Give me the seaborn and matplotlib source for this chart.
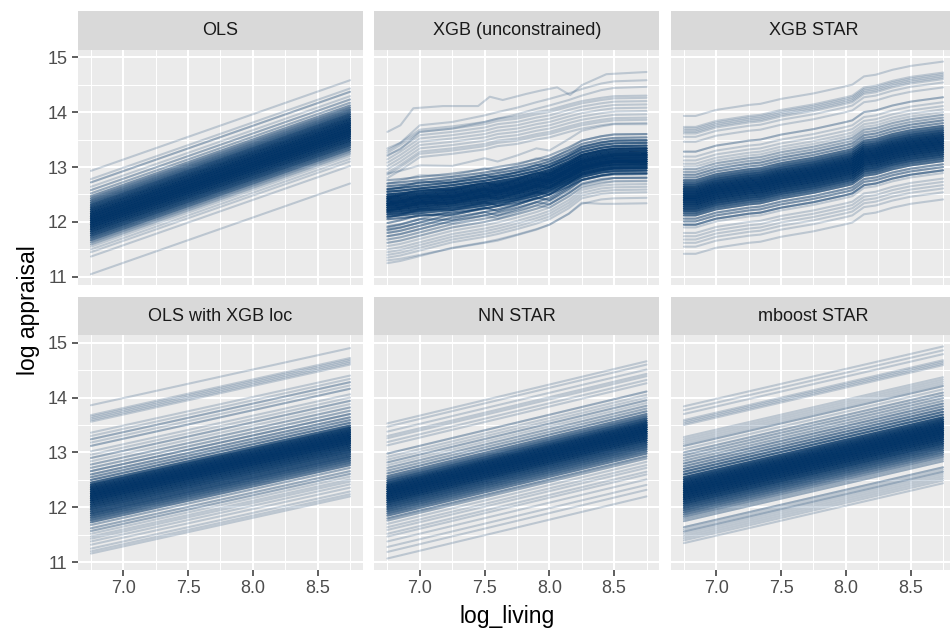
import matplotlib
matplotlib.use("Agg")
import matplotlib.pyplot as plt
from matplotlib.patches import Rectangle
import seaborn as sns
import pandas as pd

# facet order (ggplot facet_wrap, 3 columns)
panels = ["OLS", "XGB (unconstrained)", "XGB STAR",
          "OLS with XGB loc", "NN STAR", "mboost STAR"]

x_lo, x_hi = 6.75, 8.75
line_color = "#003366"

# straight ICE panels: value at x_lo, number of curves there, rise to x_hi
ols_start = [12.93, 12.78, 12.72, 12.64, 12.58, 12.52, 12.47, 12.43, 12.39, 12.35,
             12.31, 12.27, 12.23, 12.19, 12.15, 12.11, 12.07, 12.03, 11.99, 11.95,
             11.91, 11.87, 11.83, 11.79, 11.75, 11.71, 11.67, 11.63, 11.59, 11.55,
             11.50, 11.45, 11.37, 11.05]
ols_n = [1, 1, 2, 1, 2, 2, 3, 4, 5, 6,
         8, 9, 11, 12, 14, 15, 15, 16, 16, 15,
         14, 12, 11, 9, 8, 6, 5, 3, 2, 1,
         1, 1, 1, 1]
ols_rise = 1.65

xloc_start = [13.86, 13.68, 13.65, 13.62, 13.59, 13.56, 13.36, 13.30, 13.24, 13.18,
              13.12, 13.02, 12.96, 12.90, 12.84, 12.78, 12.72, 12.66, 12.60, 12.55,
              12.50, 12.45, 12.41, 12.37, 12.33, 12.29, 12.25, 12.21, 12.17, 12.13,
              12.09, 12.05, 12.01, 11.97, 11.93, 11.89, 11.85, 11.81, 11.77, 11.73,
              11.68, 11.62, 11.57, 11.52, 11.47, 11.43, 11.38, 11.32, 11.25, 11.20,
              11.16]
xloc_n = [1, 1, 1, 1, 1, 1, 1, 1, 2, 1,
          2, 1, 1, 2, 1, 2, 2, 3, 3, 3,
          4, 6, 10, 12, 14, 15, 16, 16, 15, 14,
          12, 11, 10, 9, 8, 8, 7, 6, 5, 4,
          2, 2, 2, 1, 1, 1, 1, 1, 1, 1,
          1]
xloc_rise = 1.04

nn_start = [13.53, 13.47, 13.38, 13.30, 13.26, 13.19, 13.13, 12.98, 12.92, 12.87,
            12.82, 12.77, 12.72, 12.67, 12.62, 12.57, 12.53, 12.49, 12.45, 12.41,
            12.37, 12.33, 12.29, 12.25, 12.21, 12.17, 12.13, 12.09, 12.05, 12.01,
            11.97, 11.93, 11.89, 11.85, 11.80, 11.76, 11.70, 11.64, 11.59, 11.52,
            11.47, 11.38, 11.28, 11.19, 11.07]
nn_n = [1, 1, 1, 1, 1, 1, 1, 2, 1, 1,
        2, 1, 2, 2, 3, 4, 5, 7, 9, 12,
        14, 15, 16, 16, 15, 14, 13, 11, 9, 8,
        7, 6, 5, 4, 3, 2, 1, 1, 1, 1,
        1, 1, 1, 1, 1]
nn_rise = 1.13

mb_start = [13.84, 13.77, 13.70, 13.59, 13.56, 13.53, 13.50, 13.28, 13.24, 13.20,
            13.16, 13.12, 13.06, 13.00, 12.95, 12.90, 12.85, 12.80, 12.75, 12.70,
            12.65, 12.60, 12.55, 12.51, 12.47, 12.43, 12.39, 12.35, 12.31, 12.27,
            12.23, 12.19, 12.15, 12.11, 12.07, 12.03, 11.99, 11.95, 11.91, 11.87,
            11.83, 11.79, 11.75, 11.64, 11.60, 11.56, 11.52, 11.48, 11.44, 11.40,
            11.35]
mb_n = [1, 1, 1, 1, 1, 1, 1, 1, 1, 1,
        1, 2, 1, 2, 2, 2, 2, 3, 3, 4,
        5, 6, 8, 10, 12, 14, 15, 16, 16, 16,
        15, 14, 13, 11, 10, 8, 7, 6, 5, 4,
        3, 2, 2, 2, 1, 2, 1, 1, 1, 1,
        1]
mb_rise = 1.09

# XGB STAR: one shared stepwise shape
xs_x = [6.75, 6.84, 7.0, 7.25, 7.34, 7.5, 7.75, 8.0, 8.05, 8.14, 8.23, 8.36, 8.5, 8.75]
xs_rise = [0.0, 0.0, 0.11, 0.20, 0.22, 0.31, 0.41, 0.54, 0.57, 0.72, 0.75, 0.84, 0.91, 0.99]
xs_start = [13.93, 13.73, 13.70, 13.67, 13.64, 13.61, 13.55, 13.46, 13.28, 13.19,
            13.12, 13.06, 13.01, 12.96, 12.91, 12.86, 12.81, 12.76, 12.72, 12.68,
            12.64, 12.60, 12.56, 12.52, 12.48, 12.44, 12.40, 12.36, 12.32, 12.28,
            12.24, 12.20, 12.16, 12.12, 12.06, 12.01, 11.95, 11.90, 11.80, 11.74,
            11.68, 11.62, 11.55, 11.42]
xs_n = [1, 1, 1, 1, 1, 1, 1, 1, 2, 1,
        1, 1, 1, 2, 2, 3, 3, 5, 6, 8,
        10, 12, 14, 15, 16, 16, 15, 14, 13, 11,
        10, 8, 6, 5, 3, 3, 4, 1, 1, 1,
        1, 1, 1, 1]

# XGB unconstrained: a handful of curve shapes
xgb_x = [6.75, 6.85, 7.0, 7.25, 7.5, 7.6, 7.75, 7.9, 8.0, 8.15, 8.25, 8.4, 8.5, 8.75]
xgb_hi_rise = [0.0, 0.10, 0.42, 0.48, 0.60, 0.66, 0.74, 0.84, 0.90, 1.00, 1.08, 1.18, 1.22, 1.24]
xgb_up_rise = [0.0, 0.14, 0.38, 0.44, 0.52, 0.58, 0.62, 0.70, 0.74, 0.84, 0.90, 0.96, 0.99, 1.00]
xgb_mid_rise = [0.0, 0.02, 0.06, 0.12, 0.20, 0.24, 0.30, 0.38, 0.45, 0.60, 0.72, 0.80, 0.83, 0.84]
xgb_wig_rise = [0.0, 0.05, 0.15, 0.14, 0.28, 0.22, 0.33, 0.46, 0.42, 0.63, 0.78, 0.86, 0.90, 0.90]
xgb_low_rise = [0.0, 0.04, 0.13, 0.28, 0.38, 0.43, 0.52, 0.62, 0.70, 0.90, 1.08, 1.16, 1.18, 1.19]

xgb_hi_start = [13.34, 13.22]
xgb_hi_n = [1, 1]
xgb_up_start = [13.30, 13.26, 13.20, 13.14, 13.08, 13.02, 12.96, 12.90, 12.86, 12.80]
xgb_up_n = [1, 1, 1, 1, 1, 1, 1, 1, 1, 1]
xgb_mid_start = [12.76, 12.70, 12.65, 12.60, 12.55, 12.50, 12.46, 12.42, 12.38, 12.34,
                 12.30, 12.26, 12.22, 12.18, 12.14, 12.10, 12.05]
xgb_mid_n = [2, 3, 4, 6, 8, 10, 12, 14, 15, 16,
             16, 15, 13, 11, 9, 6, 4]
xgb_wig_start = [12.88, 12.70, 12.58, 12.44, 12.32, 12.20, 12.08, 11.98, 11.90, 11.84]
xgb_wig_n = [1, 1, 2, 3, 3, 3, 3, 3, 2, 1]
xgb_low_start = [11.92, 11.86, 11.80, 11.74, 11.68, 11.62, 11.56, 11.50, 11.45, 11.40,
                 11.35, 11.25]
xgb_low_n = [2, 3, 3, 3, 2, 2, 1, 1, 1, 1,
             1, 1]

xgb_top_x = [6.75, 6.85, 6.95, 7.18, 7.45, 7.54, 7.64, 7.82, 7.93, 8.06, 8.16, 8.25, 8.44, 8.75]
xgb_top_y = [13.64, 13.76, 14.07, 14.11, 14.11, 14.28, 14.22, 14.33, 14.39, 14.45, 14.31, 14.49, 14.69, 14.73]
xgb_bot_y = [11.30, 11.33, 11.40, 11.52, 11.62, 11.66, 11.76, 11.86, 11.95, 12.15, 12.35, 12.33, 12.33, 12.34]


rows = []
uid = 0


def add_curve(model, xs, ys):
    global uid
    for x, y in zip(xs, ys):
        rows.append((model, uid, x, y))
    uid += 1


def add_group(model, xs, rise, starts, counts):
    assert len(starts) == len(counts)
    for s, n in zip(starts, counts):
        for _ in range(n):
            add_curve(model, xs, [s + r for r in rise])


add_group("OLS", [x_lo, x_hi], [0, ols_rise], ols_start, ols_n)
add_group("OLS with XGB loc", [x_lo, x_hi], [0, xloc_rise], xloc_start, xloc_n)
add_group("NN STAR", [x_lo, x_hi], [0, nn_rise], nn_start, nn_n)
add_group("mboost STAR", [x_lo, x_hi], [0, mb_rise], mb_start, mb_n)
add_group("XGB STAR", xs_x, xs_rise, xs_start, xs_n)
add_group("XGB (unconstrained)", xgb_x, xgb_hi_rise, xgb_hi_start, xgb_hi_n)
add_group("XGB (unconstrained)", xgb_x, xgb_up_rise, xgb_up_start, xgb_up_n)
add_group("XGB (unconstrained)", xgb_x, xgb_mid_rise, xgb_mid_start, xgb_mid_n)
add_group("XGB (unconstrained)", xgb_x, xgb_wig_rise, xgb_wig_start, xgb_wig_n)
add_group("XGB (unconstrained)", xgb_x, xgb_low_rise, xgb_low_start, xgb_low_n)
add_curve("XGB (unconstrained)", xgb_top_x, xgb_top_y)
add_curve("XGB (unconstrained)", xgb_x, xgb_bot_y)

df = pd.DataFrame(rows, columns=["model", "uid", "log_living", "log_appraisal"])

sns.set_theme(style="darkgrid", rc={
    "axes.facecolor": "#EBEBEB",
    "grid.color": "white",
    "xtick.bottom": True,
    "ytick.left": True,
    "xtick.color": "#333333",
    "ytick.color": "#333333",
    "xtick.labelcolor": "#4D4D4D",
    "ytick.labelcolor": "#4D4D4D",
    "xtick.major.size": 4,
    "ytick.major.size": 4,
    "xtick.major.width": 1.1,
    "ytick.major.width": 1.1,
    "xtick.major.pad": 3.5,
    "ytick.major.pad": 3.5,
})
plt.rcParams["font.family"] = ["Liberation Sans", "DejaVu Sans"]

g = sns.relplot(data=df, x="log_living", y="log_appraisal", col="model",
                col_order=panels, col_wrap=3, kind="line", units="uid",
                estimator=None, color=line_color, alpha=0.2, linewidth=1.5,
                height=3, aspect=1.2)

fig = g.figure
fig.set_size_inches(9.5, 6.3)
fig.subplots_adjust(left=0.0821, right=1.0063, top=0.9206, bottom=0.0952,
                    wspace=0.0404, hspace=0.217)
g.set_titles("")
g.set_axis_labels("", "")

strip_h = 39 / 235
for i, (ax, name) in enumerate(zip(g.axes.flat, panels)):
    ax.set_xlim(6.65, 8.85)
    ax.set_ylim(10.86, 15.13)
    ax.set_xticks([7.0, 7.5, 8.0, 8.5])
    ax.set_xticks([6.75, 7.25, 7.75, 8.25, 8.75], minor=True)
    ax.set_yticks([11, 12, 13, 14, 15])
    ax.set_yticks([11.5, 12.5, 13.5, 14.5], minor=True)
    ax.grid(which="major", color="white", linewidth=1.5)
    ax.grid(which="minor", color="white", linewidth=0.75)
    ax.tick_params(which="minor", length=0)
    ax.tick_params(labelsize=13)
    for s in ax.spines.values():
        s.set_visible(False)
    if i < 3:
        ax.tick_params(axis="x", length=0)
    if i % 3 != 0:
        ax.tick_params(axis="y", length=0)
    ax.add_patch(Rectangle((0, 1), 1, strip_h, transform=ax.transAxes,
                           facecolor="#D9D9D9", edgecolor="none", clip_on=False))
    ax.text(0.5, 1 + strip_h / 2, name, transform=ax.transAxes, ha="center",
            va="center", fontsize=13, color="#1A1A1A")

fig.text(0.0305, 0.508, "log appraisal", rotation=90, ha="center", va="center",
         fontsize=16.5, color="black")
fig.text(0.534, 0.011, "log_living", ha="center", va="baseline",
         fontsize=16.5, color="black")

fig.savefig("out.png", dpi=100)
